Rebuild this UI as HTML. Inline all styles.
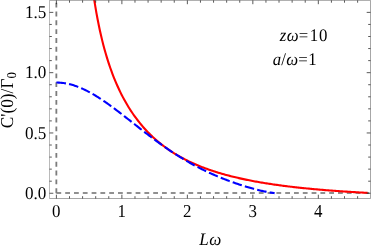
<!DOCTYPE html>
<html><head><meta charset="utf-8">
<style>
html,body{margin:0;padding:0;background:#fff;}
body{width:371px;height:246px;overflow:hidden;}
svg{display:block;}
text{font-family:"Liberation Serif",serif;fill:#000;text-rendering:geometricPrecision;}
.it{font-style:italic;}
</style></head><body>
<svg width="371" height="246" viewBox="0 0 371 246">
<rect width="371" height="246" fill="#fff"/>
<path d="M56.4,193.05 H370.5" stroke="#6c6c6c" stroke-width="1.5" stroke-dasharray="4.8 4.0" fill="none"/>
<path d="M56.35,193.2 V0.4" stroke="#7c7c7c" stroke-width="1.8" stroke-dasharray="4.9 3.94" fill="none"/>
<path d="M94.15,-0.71 L95.30,6.45 L96.45,13.10 L97.60,19.29 L98.74,25.07 L99.89,30.49 L101.04,35.58 L102.19,40.38 L103.34,44.92 L104.49,49.21 L105.64,53.29 L106.79,57.16 L107.94,60.85 L109.09,64.38 L110.23,67.74 L111.38,70.97 L112.53,74.06 L113.68,77.02 L114.83,79.87 L115.98,82.62 L117.13,85.26 L118.28,87.80 L119.43,90.25 L120.57,92.62 L121.72,94.91 L122.87,97.13 L124.02,99.27 L125.17,101.34 L126.32,103.35 L127.47,105.30 L128.62,107.19 L129.77,109.03 L130.92,110.81 L132.06,112.54 L133.21,114.22 L134.36,115.85 L135.51,117.44 L136.66,118.99 L137.81,120.49 L138.96,121.96 L140.11,123.38 L141.26,124.77 L142.41,126.13 L143.55,127.45 L144.70,128.74 L145.85,129.99 L147.00,131.22 L148.15,132.41 L149.30,133.58 L150.45,134.72 L151.60,135.83 L152.75,136.92 L153.89,137.98 L155.04,139.01 L156.19,140.03 L157.34,141.02 L158.49,141.98 L159.64,142.93 L160.79,143.86 L161.94,144.76 L163.09,145.65 L164.24,146.51 L165.38,147.36 L166.53,148.19 L167.68,149.00 L168.83,149.80 L169.98,150.58 L171.13,151.34 L172.28,152.09 L173.43,152.82 L174.58,153.53 L175.72,154.24 L176.87,154.92 L178.02,155.60 L179.17,156.26 L180.32,156.91 L181.47,157.54 L182.62,158.16 L183.77,158.77 L184.92,159.37 L186.07,159.96 L187.21,160.53 L188.36,161.10 L189.51,161.65 L190.66,162.20 L191.81,162.73 L192.96,163.25 L194.11,163.77 L195.26,164.27 L196.41,164.77 L197.55,165.25 L198.70,165.73 L199.85,166.20 L201.00,166.66 L202.15,167.11 L203.30,167.55 L204.45,167.99 L205.60,168.42 L206.75,168.84 L207.90,169.25 L209.04,169.65 L210.19,170.05 L211.34,170.45 L212.49,170.83 L213.64,171.21 L214.79,171.58 L215.94,171.95 L217.09,172.31 L218.24,172.66 L219.38,173.01 L220.53,173.35 L221.68,173.68 L222.83,174.02 L223.98,174.34 L225.13,174.66 L226.28,174.97 L227.43,175.28 L228.58,175.59 L229.73,175.89 L230.87,176.18 L232.02,176.47 L233.17,176.76 L234.32,177.04 L235.47,177.31 L236.62,177.59 L237.77,177.85 L238.92,178.12 L240.07,178.38 L241.22,178.63 L242.36,178.88 L243.51,179.13 L244.66,179.37 L245.81,179.61 L246.96,179.85 L248.11,180.08 L249.26,180.31 L250.41,180.54 L251.56,180.76 L252.70,180.98 L253.85,181.20 L255.00,181.41 L256.15,181.62 L257.30,181.83 L258.45,182.03 L259.60,182.23 L260.75,182.43 L261.90,182.62 L263.05,182.81 L264.19,183.00 L265.34,183.19 L266.49,183.37 L267.64,183.55 L268.79,183.73 L269.94,183.91 L271.09,184.08 L272.24,184.25 L273.39,184.42 L274.53,184.59 L275.68,184.75 L276.83,184.91 L277.98,185.07 L279.13,185.23 L280.28,185.39 L281.43,185.54 L282.58,185.69 L283.73,185.84 L284.88,185.99 L286.02,186.13 L287.17,186.27 L288.32,186.42 L289.47,186.55 L290.62,186.69 L291.77,186.83 L292.92,186.96 L294.07,187.09 L295.22,187.22 L296.36,187.35 L297.51,187.48 L298.66,187.60 L299.81,187.73 L300.96,187.85 L302.11,187.97 L303.26,188.09 L304.41,188.21 L305.56,188.32 L306.71,188.44 L307.85,188.55 L309.00,188.66 L310.15,188.77 L311.30,188.88 L312.45,188.99 L313.60,189.09 L314.75,189.20 L315.90,189.30 L317.05,189.40 L318.19,189.51 L319.34,189.61 L320.49,189.70 L321.64,189.80 L322.79,189.90 L323.94,189.99 L325.09,190.09 L326.24,190.18 L327.39,190.27 L328.54,190.36 L329.68,190.45 L330.83,190.54 L331.98,190.62 L333.13,190.71 L334.28,190.80 L335.43,190.88 L336.58,190.96 L337.73,191.04 L338.88,191.13 L340.03,191.21 L341.17,191.29 L342.32,191.36 L343.47,191.44 L344.62,191.52 L345.77,191.59 L346.92,191.67 L348.07,191.74 L349.22,191.82 L350.37,191.89 L351.51,191.96 L352.66,192.03 L353.81,192.10 L354.96,192.17 L356.11,192.24 L357.26,192.30 L358.41,192.37 L359.56,192.44 L360.71,192.50 L361.86,192.57 L363.00,192.63 L364.15,192.69 L365.30,192.75 L366.45,192.82 L367.60,192.88" stroke="#ff0000" stroke-width="2.1" fill="none" stroke-linejoin="round"/>
<path d="M56.40,82.56 L57.31,82.57 L58.23,82.59 L59.14,82.63 L60.05,82.68 L60.96,82.76 L61.88,82.84 L62.79,82.95 L63.70,83.07 L64.62,83.20 L65.53,83.35 L66.44,83.52 L67.36,83.70 L68.27,83.89 L69.18,84.11 L70.09,84.33 L71.01,84.57 L71.92,84.82 L72.83,85.09 L73.75,85.37 L74.66,85.67 L75.57,85.98 L76.49,86.30 L77.40,86.63 L78.31,86.98 L79.22,87.34 L80.14,87.72 L81.05,88.10 L81.96,88.50 L82.88,88.91 L83.79,89.33 L84.70,89.76 L85.62,90.20 L86.53,90.66 L87.44,91.12 L88.35,91.60 L89.27,92.08 L90.18,92.58 L91.09,93.09 L92.01,93.60 L92.92,94.13 L93.83,94.66 L94.74,95.20 L95.66,95.75 L96.57,96.31 L97.48,96.88 L98.40,97.46 L99.31,98.04 L100.22,98.63 L101.14,99.23 L102.05,99.84 L102.96,100.45 L103.87,101.07 L104.79,101.69 L105.70,102.32 L106.61,102.96 L107.53,103.61 L108.44,104.25 L109.35,104.91 L110.27,105.57 L111.18,106.23 L112.09,106.90 L113.00,107.57 L113.92,108.25 L114.83,108.93 L115.74,109.62 L116.66,110.30 L117.57,111.00 L118.48,111.69 L119.39,112.39 L120.31,113.09 L121.22,113.79 L122.13,114.50 L123.05,115.20 L123.96,115.91 L124.87,116.62 L125.79,117.34 L126.70,118.05 L127.61,118.77 L128.52,119.48 L129.44,120.20 L130.35,120.92 L131.26,121.63 L132.18,122.35 L133.09,123.07 L134.00,123.79 L134.92,124.51 L135.83,125.23 L136.74,125.94 L137.65,126.66 L138.57,127.37 L139.48,128.09 L140.39,128.80 L141.31,129.51 L142.22,130.22 L143.13,130.93 L144.05,131.64 L144.96,132.35 L145.87,133.05 L146.78,133.75 L147.70,134.45 L148.61,135.15 L149.52,135.84 L150.44,136.53 L151.35,137.22 L152.26,137.91 L153.17,138.59 L154.09,139.27 L155.00,139.95 L155.91,140.62 L156.83,141.29 L157.74,141.96 L158.65,142.62 L159.57,143.28 L160.48,143.94 L161.39,144.59 L162.30,145.24 L163.22,145.89 L164.13,146.53 L165.04,147.17 L165.96,147.80 L166.87,148.43 L167.78,149.05 L168.70,149.67 L169.61,150.29 L170.52,150.90 L171.43,151.51 L172.35,152.11 L173.26,152.71 L174.17,153.31 L175.09,153.90 L176.00,154.48 L176.91,155.06 L177.83,155.64 L178.74,156.21 L179.65,156.78 L180.56,157.34 L181.48,157.90 L182.39,158.45 L183.30,159.00 L184.22,159.55 L185.13,160.09 L186.04,160.62 L186.95,161.15 L187.87,161.68 L188.78,162.20 L189.69,162.71 L190.61,163.23 L191.52,163.73 L192.43,164.24 L193.35,164.73 L194.26,165.23 L195.17,165.72 L196.08,166.20 L197.00,166.68 L197.91,167.15 L198.82,167.62 L199.74,168.09 L200.65,168.55 L201.56,169.01 L202.48,169.46 L203.39,169.91 L204.30,170.36 L205.21,170.80 L206.13,171.23 L207.04,171.67 L207.95,172.09 L208.87,172.52 L209.78,172.94 L210.69,173.35 L211.61,173.76 L212.52,174.17 L213.43,174.58 L214.34,174.98 L215.26,175.37 L216.17,175.76 L217.08,176.15 L218.00,176.54 L218.91,176.92 L219.82,177.29 L220.73,177.67 L221.65,178.04 L222.56,178.41 L223.47,178.77 L224.39,179.13 L225.30,179.48 L226.21,179.84 L227.13,180.19 L228.04,180.53 L228.95,180.87 L229.86,181.21 L230.78,181.55 L231.69,181.88 L232.60,182.21 L233.52,182.53 L234.43,182.86 L235.34,183.18 L236.26,183.49 L237.17,183.80 L238.08,184.11 L238.99,184.42 L239.91,184.72 L240.82,185.02 L241.73,185.31 L242.65,185.61 L243.56,185.89 L244.47,186.18 L245.38,186.46 L246.30,186.74 L247.21,187.01 L248.12,187.28 L249.04,187.55 L249.95,187.82 L250.86,188.07 L251.78,188.33 L252.69,188.58 L253.60,188.83 L254.51,189.07 L255.43,189.31 L256.34,189.55 L257.25,189.78 L258.17,190.00 L259.08,190.22 L259.99,190.44 L260.91,190.65 L261.82,190.86 L262.73,191.06 L263.64,191.25 L264.56,191.44 L265.47,191.62 L266.38,191.80 L267.30,191.97 L268.21,192.14 L269.12,192.30 L270.04,192.45 L270.95,192.59 L271.86,192.73 L272.77,192.86 L273.69,192.98 L274.60,193.10" stroke="#0000ff" stroke-width="2.1" fill="none" stroke-dasharray="9.6 3.2" stroke-linejoin="round"/>
<path d="M49.5,0.4 H370.5 V198.5 H49.5" fill="none" stroke="#555" stroke-width="0.52"/>
<path d="M49.5,198.5 V0.4" fill="none" stroke="#7a7a7a" stroke-width="0.52"/>
<path d="M56.40,198.5 v-3.8 M56.40,0.4 v3.8 M69.50,198.5 v-2.3 M69.50,0.4 v2.3 M82.59,198.5 v-2.3 M82.59,0.4 v2.3 M95.69,198.5 v-2.3 M95.69,0.4 v2.3 M108.78,198.5 v-2.3 M108.78,0.4 v2.3 M121.88,198.5 v-3.8 M121.88,0.4 v3.8 M134.98,198.5 v-2.3 M134.98,0.4 v2.3 M148.07,198.5 v-2.3 M148.07,0.4 v2.3 M161.17,198.5 v-2.3 M161.17,0.4 v2.3 M174.26,198.5 v-2.3 M174.26,0.4 v2.3 M187.36,198.5 v-3.8 M187.36,0.4 v3.8 M200.46,198.5 v-2.3 M200.46,0.4 v2.3 M213.55,198.5 v-2.3 M213.55,0.4 v2.3 M226.65,198.5 v-2.3 M226.65,0.4 v2.3 M239.74,198.5 v-2.3 M239.74,0.4 v2.3 M252.84,198.5 v-3.8 M252.84,0.4 v3.8 M265.94,198.5 v-2.3 M265.94,0.4 v2.3 M279.03,198.5 v-2.3 M279.03,0.4 v2.3 M292.13,198.5 v-2.3 M292.13,0.4 v2.3 M305.22,198.5 v-2.3 M305.22,0.4 v2.3 M318.32,198.5 v-3.8 M318.32,0.4 v3.8 M331.42,198.5 v-2.3 M331.42,0.4 v2.3 M344.51,198.5 v-2.3 M344.51,0.4 v2.3 M357.61,198.5 v-2.3 M357.61,0.4 v2.3 M49.5,193.25 h3.8 M370.5,193.25 h-3.8 M49.5,181.19 h2.3 M370.5,181.19 h-2.3 M49.5,169.13 h2.3 M370.5,169.13 h-2.3 M49.5,157.08 h2.3 M370.5,157.08 h-2.3 M49.5,145.02 h2.3 M370.5,145.02 h-2.3 M49.5,132.96 h3.8 M370.5,132.96 h-3.8 M49.5,120.90 h2.3 M370.5,120.90 h-2.3 M49.5,108.84 h2.3 M370.5,108.84 h-2.3 M49.5,96.79 h2.3 M370.5,96.79 h-2.3 M49.5,84.73 h2.3 M370.5,84.73 h-2.3 M49.5,72.67 h3.8 M370.5,72.67 h-3.8 M49.5,60.61 h2.3 M370.5,60.61 h-2.3 M49.5,48.55 h2.3 M370.5,48.55 h-2.3 M49.5,36.50 h2.3 M370.5,36.50 h-2.3 M49.5,24.44 h2.3 M370.5,24.44 h-2.3 M49.5,12.38 h3.8 M370.5,12.38 h-3.8" stroke="#111" stroke-width="0.7" fill="none"/>
<g style="opacity:0.999">
<text class="tl" font-size="18.0" text-anchor="end" transform="translate(46.4,18.13) scale(0.95,1)">1.5</text>
<text class="tl" font-size="18.0" text-anchor="end" transform="translate(46.4,78.42) scale(0.95,1)">1.0</text>
<text class="tl" font-size="18.0" text-anchor="end" transform="translate(46.4,138.71) scale(0.95,1)">0.5</text>
<text class="tl" font-size="18.0" text-anchor="end" transform="translate(46.4,199.0) scale(0.95,1)">0.0</text>
<text class="tl" font-size="18.2" text-anchor="middle" transform="translate(56.3,217.4) scale(0.93,1)">0</text>
<text class="tl" font-size="18.2" text-anchor="middle" transform="translate(121.78,217.4) scale(0.93,1)">1</text>
<text class="tl" font-size="18.2" text-anchor="middle" transform="translate(187.26,217.4) scale(0.93,1)">2</text>
<text class="tl" font-size="18.2" text-anchor="middle" transform="translate(252.74,217.4) scale(0.93,1)">3</text>
<text class="tl" font-size="18.2" text-anchor="middle" transform="translate(318.22,217.4) scale(0.93,1)">4</text>
<text class="tl it" font-size="17.6" text-anchor="start" transform="translate(199.3,244.7) scale(0.97,1)">L<tspan dx="0.5">ω</tspan></text>
<text class="tl" font-size="17.8" text-anchor="start" transform="translate(279.8,41.4) scale(0.945,1)"><tspan class="it">z</tspan><tspan class="it" dx="0.4">ω</tspan><tspan dx="0.3">=</tspan><tspan dx="1.5">1</tspan><tspan dx="0.8">0</tspan></text>
<text class="tl" font-size="17.8" text-anchor="start" transform="translate(272.8,65.3) scale(0.945,1)"><tspan class="it">a</tspan>/<tspan class="it" dx="0.3">ω</tspan><tspan dx="0.2">=</tspan><tspan dx="0.6">1</tspan></text>
<text class="tl" font-size="18.2" transform="translate(12.9,128.2) rotate(-90) scale(0.95,1)">C'(0)/Γ<tspan font-size="13.4" dy="2.6">0</tspan></text>
</g>
</svg>
</body></html>
